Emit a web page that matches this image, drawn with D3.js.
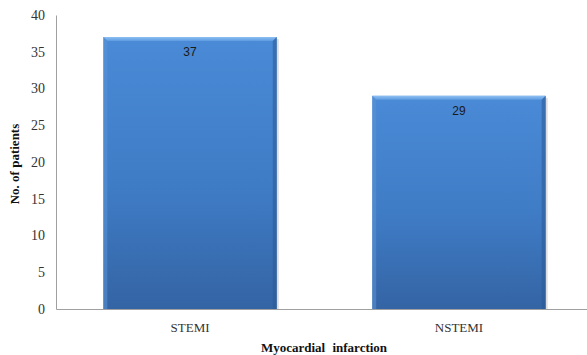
<!DOCTYPE html>
<html>
<head>
<meta charset="utf-8">
<script src="https://cdn.jsdelivr.net/npm/d3@7"></script>
<style>
    body { margin: 0; background: #fff; overflow: hidden; }
</style>
</head>
<body>
<div id="chart"></div>
<script>
const categories = ["STEMI", "NSTEMI"];
const patients = [37, 29];
const yTicks = [0, 5, 10, 15, 20, 25, 30, 35, 40];

const W = 587, H = 355;
const plot = { left: 56, right: 593, top: 15, bottom: 309 };
const serif = "'Liberation Serif', 'Times New Roman', serif";

const svg = d3.select("#chart").append("svg")
    .attr("width", W)
    .attr("height", H);

// Gradients for the bevelled bars
const defs = svg.append("defs");
const body = defs.append("linearGradient").attr("id", "barBody")
    .attr("x1", 0).attr("y1", 0).attr("x2", 0).attr("y2", 1);
body.append("stop").attr("offset", "0%").attr("stop-color", "#4a8ad6");
body.append("stop").attr("offset", "55%").attr("stop-color", "#3f7cc6");
body.append("stop").attr("offset", "100%").attr("stop-color", "#3464a4");

const topEdge = defs.append("linearGradient").attr("id", "barTop")
    .attr("x1", 0).attr("y1", 0).attr("x2", 0).attr("y2", 1);
topEdge.append("stop").attr("offset", "0%").attr("stop-color", "#8ec0f2");
topEdge.append("stop").attr("offset", "100%").attr("stop-color", "#5c9ae0");

const x = d3.scaleBand()
    .domain(categories)
    .range([plot.left, plot.right])
    .paddingInner(0.355)
    .paddingOuter(0.176);

const y = d3.scaleLinear()
    .domain([0, 40])
    .range([plot.bottom, plot.top]);

// Y axis
const yAxis = svg.append("g")
    .attr("transform", `translate(${plot.left},0)`)
    .call(d3.axisLeft(y).tickValues(yTicks).tickSize(0).tickPadding(11));
yAxis.attr("font-family", serif);
yAxis.select(".domain").attr("stroke", "#a0a0a0");
yAxis.selectAll("text")
    .style("font-family", serif)
    .style("font-size", "14px")
    .attr("fill", "#333");

// Bars
const bevel = 4;
const bars = svg.selectAll(".bar")
    .data(categories)
    .enter()
    .append("g")
    .attr("class", "bar");

// soft shadow on the right
bars.append("rect")
    .attr("x", d => x(d) + 2)
    .attr("y", (d, i) => y(patients[i]) + 2)
    .attr("width", x.bandwidth())
    .attr("height", (d, i) => plot.bottom - y(patients[i]) - 2)
    .attr("fill", "#c8c8c8")
    .attr("opacity", 0.6);

bars.append("rect")
    .attr("x", d => x(d))
    .attr("y", (d, i) => y(patients[i]))
    .attr("width", x.bandwidth())
    .attr("height", (d, i) => plot.bottom - y(patients[i]))
    .attr("fill", "url(#barBody)");

// top bevel
bars.append("path")
    .attr("d", (d, i) => {
        const x0 = x(d), x1 = x(d) + x.bandwidth(), t = y(patients[i]);
        return `M${x0},${t}L${x1},${t}L${x1 - bevel},${t + bevel}L${x0 + bevel},${t + bevel}Z`;
    })
    .attr("fill", "url(#barTop)");

// left bevel
bars.append("path")
    .attr("d", (d, i) => {
        const x0 = x(d), t = y(patients[i]);
        return `M${x0},${t}L${x0 + bevel},${t + bevel}L${x0 + bevel},${plot.bottom}L${x0},${plot.bottom}Z`;
    })
    .attr("fill", "#5b93d6")
    .attr("opacity", 0.55);

// right bevel
bars.append("path")
    .attr("d", (d, i) => {
        const x1 = x(d) + x.bandwidth(), t = y(patients[i]);
        return `M${x1},${t}L${x1 - bevel},${t + bevel}L${x1 - bevel},${plot.bottom}L${x1},${plot.bottom}Z`;
    })
    .attr("fill", "#2c5a96")
    .attr("opacity", 0.55);

// Value labels
bars.append("text")
    .attr("x", d => x(d) + x.bandwidth() / 2)
    .attr("y", (d, i) => y(patients[i]) + 19)
    .attr("text-anchor", "middle")
    .style("font-family", "'Liberation Sans', Arial, sans-serif")
    .style("font-size", "12px")
    .attr("fill", "#1a1a1a")
    .text((d, i) => patients[i]);

// X axis
const xAxis = svg.append("g")
    .attr("transform", `translate(0,${plot.bottom})`)
    .call(d3.axisBottom(x).tickSize(0).tickPadding(14));
xAxis.attr("font-family", serif);
xAxis.select(".domain").attr("stroke", "#a0a0a0");
xAxis.selectAll("text")
    .style("font-family", serif)
    .style("font-size", "13px")
    .attr("fill", "#333");

// Axis titles
svg.append("text")
    .attr("x", 324)
    .attr("y", 352)
    .attr("text-anchor", "middle")
    .style("font-family", serif)
    .style("font-size", "13px")
    .style("font-weight", "bold")
    .style("word-spacing", "4px")
    .attr("fill", "#111")
    .text("Myocardial infarction");

svg.append("text")
    .attr("transform", `translate(19,${(plot.top + plot.bottom) / 2 + 2}) rotate(-90)`)
    .attr("text-anchor", "middle")
    .style("font-family", serif)
    .style("font-size", "13px")
    .style("font-weight", "bold")
    .attr("fill", "#111")
    .text("No. of patients");
</script>
</body>
</html>
